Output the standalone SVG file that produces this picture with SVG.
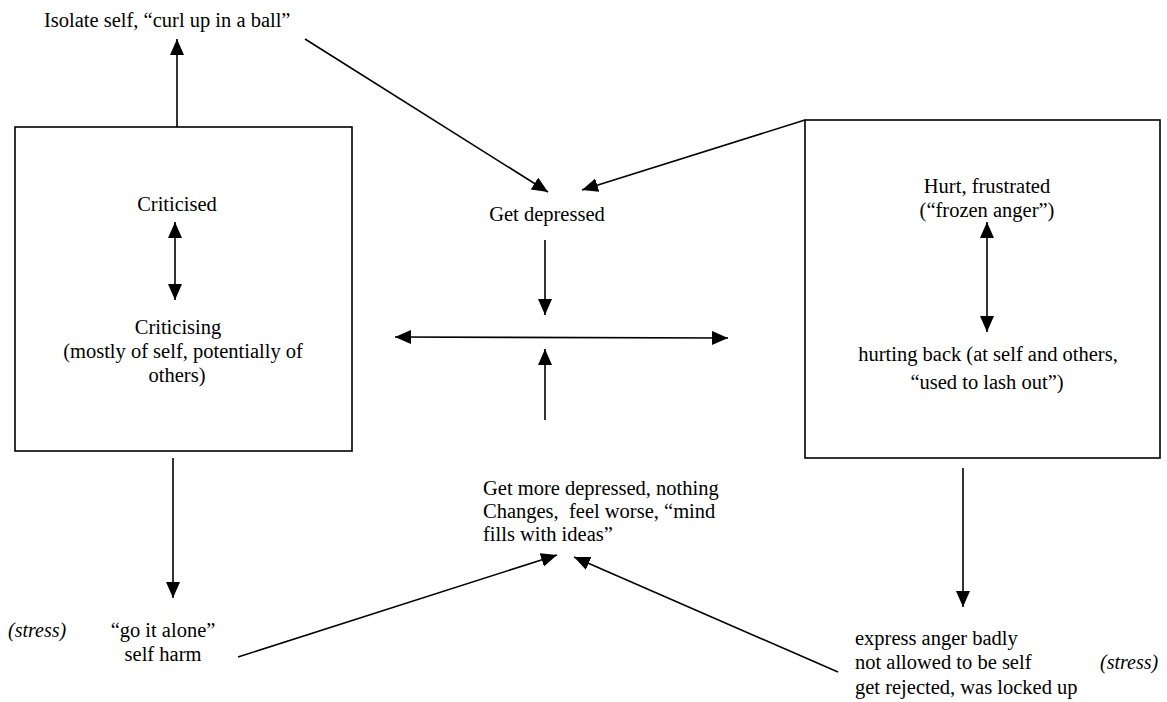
<svg xmlns="http://www.w3.org/2000/svg" width="1167" height="702" viewBox="0 0 1167 702" font-family="'Liberation Serif', 'Times New Roman', serif">
<defs>
<marker id="ah" markerUnits="userSpaceOnUse" markerWidth="18" markerHeight="16" refX="16" refY="7" orient="auto-start-reverse">
<path d="M0,0 L16,7 L0,14 Z" fill="#000"/>
</marker>
<style>
text{font-family:'Liberation Serif','Times New Roman',serif;font-size:20.5px;fill:#000}
.c{text-anchor:middle}
.i{font-style:italic;font-size:20px}
.box{fill:none;stroke:#000;stroke-width:1.6}
.ln{fill:none;stroke:#000;stroke-width:1.6}
.a{marker-end:url(#ah)}
.b{marker-start:url(#ah);marker-end:url(#ah)}
</style>
</defs>
<rect width="1167" height="702" fill="#fff"/>
<g id="isolate"><text x="44" y="27">Isolate self, “curl up in a ball”</text></g>
<g id="left-box">
<rect class="box" x="15" y="127" width="337" height="324"/>
<text class="c" x="177" y="211">Criticised</text>
<text class="c" x="178" y="334">Criticising</text>
<text class="c" x="183" y="358">(mostly of self, potentially of</text>
<text class="c" x="177" y="382">others)</text>
</g>
<g id="get-depressed"><text class="c" x="547" y="221">Get depressed</text></g>
<g id="right-box">
<rect class="box" x="805" y="120" width="355" height="338"/>
<text class="c" x="987" y="193">Hurt, frustrated</text>
<text class="c" x="987" y="217">(“frozen anger”)</text>
<text class="c" x="988" y="361">hurting back (at self and others,</text>
<text class="c" x="987" y="389">“used to lash out”)</text>
</g>
<g id="more-depressed">
<text x="483" y="495">Get more depressed, nothing</text>
<text x="483" y="518" xml:space="preserve">Changes,  feel worse, “mind</text>
<text x="483" y="541">fills with ideas”</text>
</g>
<g id="go-alone">
<text class="i" x="8" y="637">(stress)</text>
<text class="c" x="163" y="637">“go it alone”</text>
<text class="c" x="163" y="661">self harm</text>
</g>
<g id="express-anger">
<text x="855" y="645">express anger badly</text>
<text x="855" y="669">not allowed to be self</text>
<text x="855" y="694">get rejected, was locked up</text>
<text class="i" x="1100" y="669">(stress)</text>
</g>
<g id="connectors">
<line class="ln a" x1="177" y1="127" x2="177" y2="39"/>
<line class="ln a" x1="305" y1="39" x2="548" y2="192"/>
<line class="ln a" x1="805" y1="120" x2="582" y2="190"/>
<line class="ln b" x1="175" y1="222" x2="175" y2="300"/>
<line class="ln b" x1="987" y1="222" x2="987" y2="332"/>
<line class="ln a" x1="545" y1="240" x2="545" y2="315"/>
<line class="ln b" x1="395" y1="337" x2="728" y2="338"/>
<line class="ln a" x1="545" y1="420" x2="545" y2="349"/>
<line class="ln a" x1="173" y1="458" x2="173" y2="598"/>
<line class="ln a" x1="963" y1="468" x2="963" y2="607"/>
<line class="ln a" x1="238" y1="657" x2="557" y2="555"/>
<line class="ln a" x1="838" y1="672" x2="574" y2="557"/>
</g>
</svg>
